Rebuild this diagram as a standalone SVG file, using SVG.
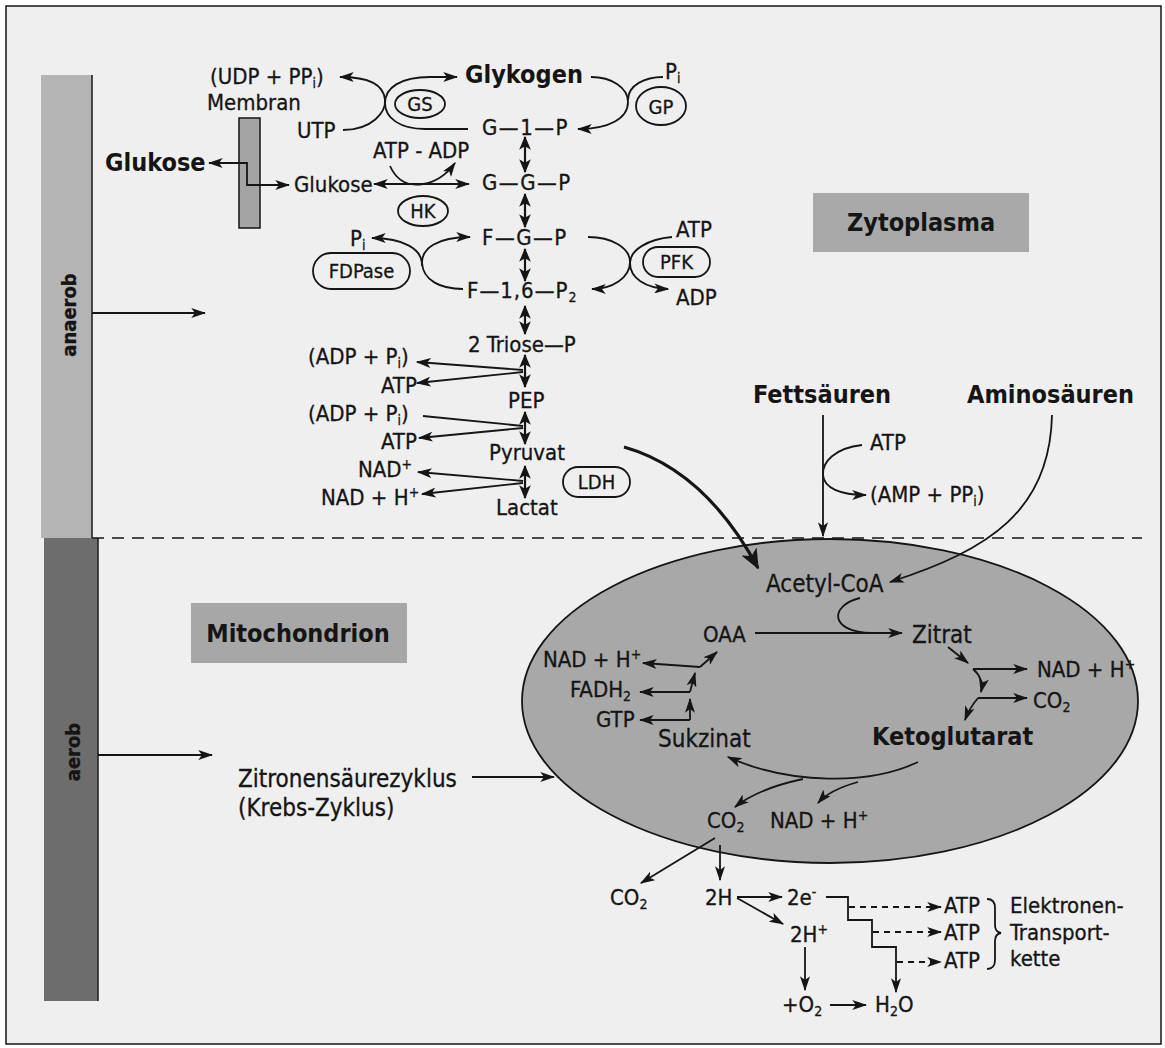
<svg xmlns="http://www.w3.org/2000/svg" width="1165" height="1048" viewBox="0 0 1165 1048">
<style>
.t{font-family:"DejaVu Sans Condensed","DejaVu Sans",sans-serif;font-stretch:condensed;font-size:22px;fill:#151515;stroke:#151515;stroke-width:0.3}
.b{font-weight:bold;font-size:25px;stroke-width:0}
.m{font-size:24px}
.sm{font-size:20px}
.sub{font-size:14px}
.ln{fill:none;stroke:#151515;stroke-width:1.8}
.a{marker-end:url(#ah)}
.aa{marker-start:url(#ah);marker-end:url(#ah)}
.da{marker-start:url(#ahb);marker-end:url(#ahb);stroke-width:2.2}
.dash{stroke-dasharray:6 5}
.ov{fill:none;stroke:#151515;stroke-width:1.8}
.box{stroke:none}
</style>
<defs>
<marker id="ah" viewBox="0 0 12 8" refX="11" refY="4" markerWidth="15" markerHeight="10" markerUnits="userSpaceOnUse" orient="auto-start-reverse"><path d="M0,0 L12,4 L0,8 L3,4 z" fill="#151515"/></marker>
<marker id="ahb" viewBox="0 0 12 10" refX="11" refY="5" markerWidth="14" markerHeight="14" markerUnits="userSpaceOnUse" orient="auto-start-reverse"><path d="M0,0 L12,5 L0,10 L3,5 z" fill="#151515"/></marker>
<marker id="ahx" viewBox="0 0 12 10" refX="11" refY="5" markerWidth="22" markerHeight="17" markerUnits="userSpaceOnUse" orient="auto"><path d="M0,0 L12,5 L0,10 L3,5 z" fill="#151515"/></marker>
</defs>
<rect x="0" y="0" width="1165" height="1048" fill="#ffffff"/>
<rect x="6" y="6" width="1155" height="1038" fill="#efefef" stroke="#222" stroke-width="1.6"/>

<g id="bar-anaerob">
<rect x="41" y="75" width="51" height="463" fill="#b4b4b4"/>
<text class="t sm" font-weight="bold" transform="translate(76,315) rotate(-90)" text-anchor="middle">anaerob</text>
</g>
<g id="bar-aerob">
<rect x="44" y="538" width="54" height="463" fill="#6d6d6d"/>
<text class="t sm" font-weight="bold" transform="translate(80,752) rotate(-90)" text-anchor="middle">aerob</text>
</g>
<line x1="92" y1="75" x2="92" y2="538" stroke="#222" stroke-width="1.6"/>
<line x1="98" y1="538" x2="98" y2="1001" stroke="#222" stroke-width="1.6"/>

<g id="label-zytoplasma">
<rect class="box" x="813" y="193" width="216" height="59" fill="#a9a9a9"/>
<text class="t b" x="921" y="231" text-anchor="middle">Zytoplasma</text>
</g>
<g id="label-mitochondrion">
<rect class="box" x="191" y="603" width="216" height="60" fill="#a7a7a7"/>
<text class="t b" x="298" y="642" text-anchor="middle">Mitochondrion</text>
</g>

<g id="mitochondrion">
<ellipse cx="830" cy="701" rx="308" ry="162" fill="#a8a8a8" stroke="#151515" stroke-width="1.8"/>
</g>

<g id="membran">
<rect x="239" y="118" width="21" height="110" fill="#a4a4a4" stroke="#151515" stroke-width="1.5"/>
<text class="t" x="207" y="110">Membran</text>
</g>

<g id="glykogen"><text class="t b" x="465" y="83">Glykogen</text></g>
<g id="udp"><text class="t" x="210" y="84">(UDP + PP<tspan class="sub" dy="4">i</tspan><tspan dy="-4">)</tspan></text></g>
<g id="utp"><text class="t" x="297" y="138">UTP</text></g>
<g id="pi-top"><text class="t" x="665" y="79">P<tspan class="sub" dy="4">i</tspan></text></g>
<g id="gs"><ellipse class="ov" cx="420" cy="104" rx="25" ry="14"/><text class="t sm" x="420" y="111" text-anchor="middle">GS</text></g>
<g id="gp"><ellipse class="ov" cx="661" cy="106" rx="25" ry="19"/><text class="t sm" x="661" y="114" text-anchor="middle">GP</text></g>
<g id="g1p"><text class="t" x="482" y="135" letter-spacing="1.5">G—1—P</text></g>
<g id="glukose-out"><text class="t b" x="105" y="171">Glukose</text></g>
<g id="glukose-in"><text class="t" x="294" y="192">Glukose</text></g>
<g id="atp-adp"><text class="t" x="373" y="158">ATP - ADP</text></g>
<g id="hk"><ellipse class="ov" cx="423" cy="211" rx="25" ry="15"/><text class="t sm" x="423" y="218" text-anchor="middle">HK</text></g>
<g id="ggp"><text class="t" x="482" y="190" letter-spacing="1.5">G—G—P</text></g>
<g id="fgp"><text class="t" x="482" y="245" letter-spacing="1.5">F—G—P</text></g>
<g id="pi-fdp"><text class="t" x="350" y="246">P<tspan class="sub" dy="4">i</tspan></text></g>
<g id="fdpase"><rect class="ov" x="313" y="253" width="97" height="36" rx="18"/><text class="t sm" x="361.5" y="278" text-anchor="middle">FDPase</text></g>
<g id="atp-pfk"><text class="t" x="676" y="237">ATP</text></g>
<g id="pfk"><rect class="ov" x="643" y="247" width="67" height="30" rx="15"/><text class="t sm" x="676.5" y="269" text-anchor="middle">PFK</text></g>
<g id="adp-pfk"><text class="t" x="676" y="305">ADP</text></g>
<g id="f16p2"><text class="t" x="467" y="298" letter-spacing="1">F—1,6—P<tspan class="sub" dy="4">2</tspan></text></g>
<g id="triose"><text class="t" x="468" y="352">2 Triose—P</text></g>
<g id="adp1"><text class="t" x="308" y="364">(ADP + P<tspan class="sub" dy="4">i</tspan><tspan dy="-4">)</tspan></text></g>
<g id="atp1"><text class="t" x="381" y="393">ATP</text></g>
<g id="pep"><text class="t" x="508" y="408">PEP</text></g>
<g id="adp2"><text class="t" x="308" y="421">(ADP + P<tspan class="sub" dy="4">i</tspan><tspan dy="-4">)</tspan></text></g>
<g id="atp2"><text class="t" x="381" y="449">ATP</text></g>
<g id="pyruvat"><text class="t" x="489" y="460">Pyruvat</text></g>
<g id="nad1"><text class="t" x="358" y="477">NAD<tspan class="sub" dy="-8">+</tspan></text></g>
<g id="nadh1"><text class="t" x="321" y="505">NAD + H<tspan class="sub" dy="-8">+</tspan></text></g>
<g id="lactat"><text class="t" x="496" y="515">Lactat</text></g>
<g id="ldh"><rect class="ov" x="563" y="467" width="67" height="30" rx="15"/><text class="t sm" x="596.5" y="489" text-anchor="middle">LDH</text></g>

<g id="fettsaeuren"><text class="t b" x="753" y="403">Fettsäuren</text></g>
<g id="aminosaeuren"><text class="t b" x="967" y="403">Aminosäuren</text></g>
<g id="atp-fs"><text class="t" x="870" y="450">ATP</text></g>
<g id="amp"><text class="t" x="870" y="502">(AMP + PP<tspan class="sub" dy="4">i</tspan><tspan dy="-4">)</tspan></text></g>

<g id="acetylcoa"><text class="t m" x="766" y="592">Acetyl-CoA</text></g>
<g id="oaa"><text class="t" x="703" y="642">OAA</text></g>
<g id="zitrat"><text class="t m" x="912" y="643">Zitrat</text></g>
<g id="nadh-m1"><text class="t" x="543" y="667">NAD + H<tspan class="sub" dy="-8">+</tspan></text></g>
<g id="fadh2"><text class="t" x="570" y="697">FADH<tspan class="sub" dy="4">2</tspan></text></g>
<g id="gtp"><text class="t" x="596" y="727">GTP</text></g>
<g id="sukzinat"><text class="t m" x="658" y="747">Sukzinat</text></g>
<g id="ketoglutarat"><text class="t b" x="872" y="745" font-size="24">Ketoglutarat</text></g>
<g id="nadh-m2"><text class="t" x="1037" y="677">NAD + H<tspan class="sub" dy="-8">+</tspan></text></g>
<g id="co2-m1"><text class="t" x="1033" y="708">CO<tspan class="sub" dy="4">2</tspan></text></g>
<g id="co2-m2"><text class="t" x="707" y="828">CO<tspan class="sub" dy="4">2</tspan></text></g>
<g id="nadh-m3"><text class="t" x="770" y="828">NAD + H<tspan class="sub" dy="-8">+</tspan></text></g>

<g id="zitronensaeurezyklus"><text class="t m" x="238" y="787">Zitronensäurezyklus</text><text class="t m" x="238" y="816">(Krebs-Zyklus)</text></g>

<g id="co2-out"><text class="t" x="610" y="905">CO<tspan class="sub" dy="4">2</tspan></text></g>
<g id="h2"><text class="t" x="705" y="905">2H</text></g>
<g id="e2"><text class="t" x="787" y="905">2e<tspan class="sub" dy="-8">-</tspan></text></g>
<g id="h2plus"><text class="t" x="790" y="942">2H<tspan class="sub" dy="-8">+</tspan></text></g>
<g id="o2"><text class="t" x="782" y="1012">+O<tspan class="sub" dy="4">2</tspan></text></g>
<g id="h2o"><text class="t" x="875" y="1012">H<tspan class="sub" dy="4">2</tspan><tspan dy="-4">O</tspan></text></g>
<g id="atp-e1"><text class="t" x="944" y="913">ATP</text></g>
<g id="atp-e2"><text class="t" x="944" y="940">ATP</text></g>
<g id="atp-e3"><text class="t" x="944" y="968">ATP</text></g>
<g id="elektronentransportkette">
<path class="ln" d="M987,899 Q995,899 995,908 L995,925 Q995,932 1001,933 Q995,934 995,941 L995,960 Q995,969 987,969"/>
<text class="t" x="1010" y="913">Elektronen-</text><text class="t" x="1010" y="940">Transport-</text><text class="t" x="1010" y="966">kette</text>
</g>

<g id="connectors">
<path class="ln a" d="M92,313 H205"/>
<path class="ln a" d="M98,755 H212"/>
<path d="M92,538 H1142" fill="none" stroke="#151515" stroke-width="1.6" stroke-dasharray="12 8"/>
<path class="ln a" d="M343,130 C372,130 386,112 385,100 C384,85 370,77 340,77"/>
<path class="ln a" d="M468,129 L425,129 C400,129 385,118 385,103 C385,88 400,77 430,77 L457,77"/>
<path class="ln a" d="M591,77 C612,77 628,88 628,102 C628,118 610,129 578,129"/>
<path class="ln" d="M663,77 C645,77 628,85 628,100"/>
<path class="ln aa" d="M209,163 H247 V185 H289"/>
<path class="ln aa" d="M374,184 H469"/>
<path class="ln a" d="M390,166 Q400,188 423,184 Q442,181 455,163"/>
<path class="ln" d="M372,238 C405,238 421,250 422,263 C423,280 440,289 463,289" marker-start="url(#ah)"/>
<path class="ln a" d="M422,266 C420,248 438,237 470,237"/>
<path class="ln a" d="M588,237 C612,237 630,248 630,262 C630,278 612,289 592,289"/>
<path class="ln a" d="M672,237 C648,239 630,250 630,263 C630,278 645,288 668,289"/>
<path class="ln da" d="M525,137 V172"/>
<path class="ln da" d="M525,194 V227"/>
<path class="ln da" d="M525,249 V281"/>
<path class="ln da" d="M525,306 V334"/>
<path class="ln da" d="M525,355 V387"/>
<path class="ln da" d="M525,412 V444"/>
<path class="ln da" d="M525,466 V498"/>
<path class="ln a" d="M523,370 L417,362"/>
<path class="ln a" d="M523,372 L417,383"/>
<path class="ln" d="M423,416 L523,426"/>
<path class="ln a" d="M523,428 L419,438"/>
<path class="ln a" d="M523,481 L418,472"/>
<path class="ln a" d="M523,483 L422,494"/>
<path d="M624,447 Q705,470 758,568" fill="none" stroke="#151515" stroke-width="3.2" marker-end="url(#ahx)"/>
<path class="ln a" d="M823,415 V536"/>
<path class="ln a" d="M862,445 C835,448 822,462 823,475 C824,488 840,495 866,495"/>
<path class="ln a" d="M1052,415 C1050,510 990,550 890,582"/>
<path class="ln a" d="M755,633 H902"/>
<path class="ln" d="M860,598 C830,605 828,632 872,633"/>
<path class="ln a" d="M948,647 L968,663"/>
<path class="ln a" d="M973,669 H1027"/>
<path class="ln a" d="M973,669 C980,675 983,683 981,692"/>
<path class="ln a" d="M978,698 H1027"/>
<path class="ln a" d="M978,698 C972,705 968,712 965,720"/>
<path class="ln a" d="M918,762 C870,785 790,785 728,757"/>
<path class="ln a" d="M803,779 C775,785 750,795 735,807"/>
<path class="ln a" d="M858,782 C840,787 825,795 818,803"/>
<path class="ln a" d="M690,720 H640"/>
<path class="ln a" d="M690,720 V699"/>
<path class="ln a" d="M690,692 H640"/>
<path class="ln a" d="M690,692 L695,673"/>
<path class="ln a" d="M700,667 L643,663"/>
<path class="ln a" d="M700,667 L717,652"/>
<path class="ln a" d="M472,777 H554"/>
<path class="ln a" d="M715,838 L641,883"/>
<path class="ln a" d="M720,845 V880"/>
<path class="ln a" d="M737,897 H782"/>
<path class="ln a" d="M737,898 L783,924"/>
<path class="ln a" d="M805,947 V990"/>
<path class="ln a" d="M830,1005 H866"/>
<path class="ln a" d="M826,897 H848 V920 H872 V947 H896 V992"/>
<path class="ln a dash" d="M849,907 H941"/>
<path class="ln a dash" d="M873,932 H941"/>
<path class="ln a dash" d="M897,962 H941"/>
</g>
</svg>
